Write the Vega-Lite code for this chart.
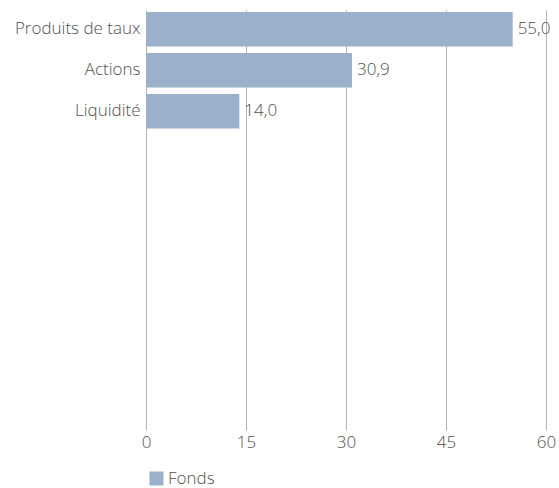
{
  "$schema": "https://vega.github.io/schema/vega-lite/v6.json",
  "autosize": {"type": "none"},
  "width": 400,
  "height": 420,
  "padding": {"left": 146, "top": 10, "right": 13, "bottom": 58},
  "background": "white",
  "data": {"values": [
    {"categorie": "Produits de taux", "valeur": 55.0, "serie": "Fonds"},
    {"categorie": "Actions", "valeur": 30.9, "serie": "Fonds"},
    {"categorie": "Liquidité", "valeur": 14.0, "serie": "Fonds"}
  ]},
  "transform": [
    {"calculate": "replace(format(datum.valeur, '.1f'), '.', ',')", "as": "etiquette"}
  ],
  "encoding": {
    "y": {
      "field": "categorie", "type": "nominal",
      "scale": {"domain": ["Produits de taux", "Actions", "Liquidité", "_4", "_5", "_6", "_7", "_8", "_9", "_10"], "paddingInner": 0.16, "paddingOuter": 0.2, "align": 0.12},
      "axis": {"title": null, "ticks": false, "domain": false, "grid": false, "labelPadding": 6, "labelFontSize": 17, "labelColor": "#505050", "labelFont": "Open Sans", "labelFontWeight": 300, "labelExpr": "indexof(datum.value, '_') == 0 ? '' : datum.value"}
    },
    "x": {
      "field": "valeur", "type": "quantitative",
      "scale": {"domain": [0, 60], "nice": false},
      "axis": {"title": null, "values": [0, 15, 30, 45, 60], "ticks": false, "domain": false, "grid": true, "gridColor": "#b3b3b3", "gridWidth": 1, "labelFlush": false, "labelPadding": 4, "labelFontSize": 17, "labelColor": "#505050", "labelFont": "Open Sans", "labelFontWeight": 300}
    }
  },
  "layer": [
    {
      "mark": {"type": "bar"},
      "encoding": {
        "color": {
          "field": "serie", "type": "nominal",
          "scale": {"range": ["#9bb0ca"]},
          "legend": {"title": null, "orient": "none", "legendX": 2, "legendY": 460, "symbolType": "square", "symbolSize": 196, "symbolStrokeWidth": 0, "labelFontSize": 17, "labelColor": "#505050", "labelFont": "Open Sans", "labelFontWeight": 300, "labelOffset": 3}
        }
      }
    },
    {
      "mark": {"type": "text", "align": "left", "dx": 5, "fontSize": 17, "font": "Open Sans", "fontWeight": 300, "color": "#505050"},
      "encoding": {"text": {"field": "etiquette"}}
    }
  ],
  "config": {"view": {"stroke": null}}
}
